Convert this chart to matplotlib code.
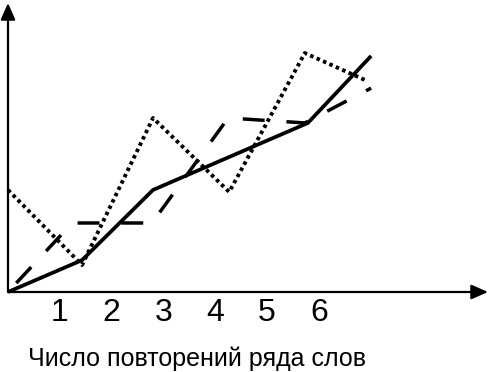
import matplotlib
matplotlib.use('Agg')
import matplotlib.pyplot as plt

plt.rcParams['font.family'] = ['Liberation Sans', 'DejaVu Sans']

# ─── Data (schematic curves) ──────────────────────────────────────────────────
solid_x = [0.0, 1.43, 2.80, 5.79, 7.01]
solid_y = [0.0, 1.10, 3.52, 5.83, 8.14]

dotted_x = [0.0, 1.43, 2.80, 4.27, 5.73, 6.93]
dotted_y = [3.52, 0.93, 6.00, 3.45, 8.24, 7.28]

dashed_x = [0.0, 1.24, 2.78, 4.25, 5.73, 7.01]
dashed_y = [0.0, 2.38, 2.38, 6.00, 5.83, 7.03]

tick_pos = [1, 2, 3, 4, 5, 6]
tick_labels = ['1', '2', '3', '4', '5', '6']
xlabel = 'Число повторений ряда слов'

# ─── Figure ───────────────────────────────────────────────────────────────────
fig = plt.figure(figsize=(4.89, 3.72), dpi=100)
ax = fig.add_axes([8 / 489, 80 / 372, 480 / 489, 289 / 372])
ax.set_xlim(0, 480 / 51.8)
ax.set_ylim(0, 289 / 29)

ax.plot(solid_x, solid_y, color='black', lw=2.7, solid_capstyle='butt',
        solid_joinstyle='miter', clip_on=False)
ax.plot(dotted_x, dotted_y, color='black', lw=2.8, linestyle=(0, (0.9, 0.9)),
        dash_capstyle='butt', clip_on=False)
ax.plot(dashed_x, dashed_y, color='black', lw=2.5, linestyle=(9.1, (6.3, 6.3)),
        dash_capstyle='butt', clip_on=False)

for s in ax.spines.values():
    s.set_visible(False)

# axis arrows
arrow = dict(arrowstyle='-|>,head_length=0.5,head_width=0.22', lw=1.6,
             color='black', shrinkA=0, shrinkB=0, mutation_scale=20)
ax.annotate('', xy=(1, 0), xytext=(0, 0), xycoords='axes fraction',
            textcoords='axes fraction', arrowprops=arrow, annotation_clip=False)
ax.annotate('', xy=(0, 1), xytext=(0, 0), xycoords='axes fraction',
            textcoords='axes fraction', arrowprops=arrow, annotation_clip=False)

ax.set_xticks(tick_pos)
ax.set_xticklabels(tick_labels, fontsize=23)
ax.tick_params(axis='x', length=0, pad=4)
ax.set_yticks([])

fig.text(28 / 489, 6 / 372, xlabel, fontsize=18, ha='left', va='baseline')

fig.savefig('out.png', dpi=100)
